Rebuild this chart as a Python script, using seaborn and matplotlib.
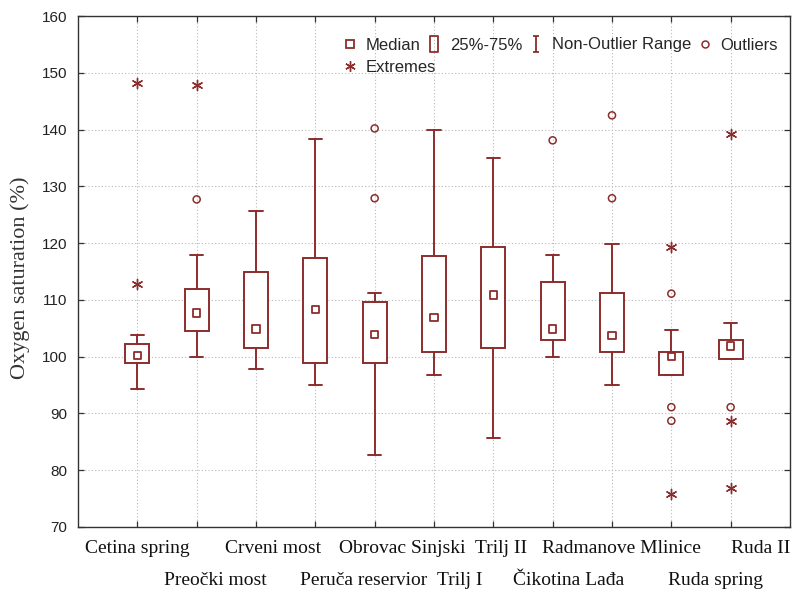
import numpy as np
import pandas as pd
import matplotlib
matplotlib.use("Agg")
import matplotlib.pyplot as plt
import seaborn as sns
from matplotlib.lines import Line2D
from matplotlib.path import Path

# ---------------- data ----------------
categories = ["Cetina spring", "Preočki most", "Crveni most", "Peruča reservior",
              "Obrovac Sinjski", "Trilj I", "Trilj II", "Čikotina Lađa",
              "Radmanove Mlinice", "Ruda spring", "Ruda II"]
whisker_low = [94.3, 99.9, 97.8, 95.0, 82.6, 96.8, 85.7, 99.9, 95.0, 96.8, 99.6]
q1 = [98.9, 104.5, 101.5, 98.9, 98.9, 100.8, 101.5, 102.9, 100.8, 96.8, 99.6]
median = [100.2, 107.7, 104.9, 108.3, 103.9, 106.9, 110.9, 104.9, 103.7, 100.0, 101.9]
q3 = [102.2, 112.0, 115.0, 117.3, 109.6, 117.8, 119.3, 113.1, 111.2, 100.8, 102.9]
whisker_high = [103.8, 117.9, 125.6, 138.4, 111.2, 140.0, 135.0, 117.9, 119.8, 104.7, 105.9]
outliers = [[], [127.7], [], [], [140.2, 127.9], [], [], [138.1],
            [142.5, 127.9], [111.1, 91.1, 88.7], [91.1]]
extremes = [[148.2, 112.8], [147.8], [], [], [], [], [], [], [],
            [119.3, 75.9], [139.2, 88.7, 76.8]]
y_ticks = [70, 80, 90, 100, 110, 120, 130, 140, 150, 160]
legend_labels = ["Median", "25%-75%", "Non-Outlier Range", "Outliers", "Extremes"]

# label horizontal offsets (pixels) as placed in the original figure
label_dx = [0, 19, 17, 48, 28, 26, 8, 16, 9, 44, 30]

RED = "#8c2d2d"
SPINE = "#333333"

sns.set_style("white")

fig = plt.figure(figsize=(7.94, 5.96), dpi=100)
ax = fig.add_axes([78 / 794, 1 - 527 / 596, 712 / 794, 511 / 596])

pos = list(range(len(categories)))

# boxes + whiskers
stats = [dict(med=m, q1=a, q3=b, whislo=lo, whishi=hi, fliers=[])
         for m, a, b, lo, hi in zip(median, q1, q3, whisker_low, whisker_high)]
ax.bxp(stats, positions=pos, widths=0.41, capwidths=0.22, patch_artist=True,
       showfliers=False, manage_ticks=False, zorder=3,
       boxprops=dict(facecolor="white", edgecolor=RED, linewidth=1.4),
       whiskerprops=dict(color=RED, linewidth=1.4),
       capprops=dict(color=RED, linewidth=1.4),
       medianprops=dict(linewidth=0))

# medians
med_df = pd.DataFrame({"pos": pos, "value": median})
sns.scatterplot(data=med_df, x="pos", y="value", ax=ax, marker="s", s=30,
                color=RED, facecolor="none", edgecolor=RED, linewidth=1.3,
                zorder=5, legend=False)

# outliers
out_df = pd.DataFrame([(i, v) for i, vals in enumerate(outliers) for v in vals],
                      columns=["pos", "value"])
sns.scatterplot(data=out_df, x="pos", y="value", ax=ax, marker="o", s=26,
                color=RED, facecolor="none", edgecolor=RED, linewidth=1.1,
                zorder=5, legend=False)

# extremes
ext_df = pd.DataFrame([(i, v) for i, vals in enumerate(extremes) for v in vals],
                      columns=["pos", "value"])
sns.scatterplot(data=ext_df, x="pos", y="value", ax=ax, marker=(6, 2, 0), s=55,
                color=RED, linewidth=1.0, zorder=5, legend=False)

# axes styling
ax.set_xlim(-1, 11)
ax.set_ylim(70, 160)
ax.set_xticks(pos)
ax.set_yticks(y_ticks)
ax.set_xlabel("")
ax.set_ylabel("Oxygen saturation (%)", fontfamily="Liberation Serif",
              fontsize=16, color="#333333")
ax.yaxis.set_label_coords(-0.068, 0.487)
ax.set_axisbelow(True)
ax.grid(True, linestyle=(0, (1, 2)), color="#b8b8b8", linewidth=0.8)
for sp in ax.spines.values():
    sp.set_visible(True)
    sp.set_color(SPINE)
    sp.set_linewidth(1.0)
ax.tick_params(direction="in", length=4, width=0.9, color=SPINE,
               top=True, right=True, bottom=True, left=True,
               labelbottom=False, pad=7.5)
ax.tick_params(axis="y", labelsize=11, labelcolor="#222222")
for t in ax.get_yticklabels():
    t.set_fontfamily("Liberation Sans")

# category labels in two staggered rows
for i, (lab, dx) in enumerate(zip(categories, label_dx)):
    dy = -26 if i % 2 == 0 else -58
    ax.annotate(lab, xy=(i, 0), xycoords=ax.get_xaxis_transform(),
                xytext=(dx, dy), textcoords="offset pixels",
                ha="center", va="baseline", fontsize=14,
                fontfamily="Liberation Serif", color="#111111",
                annotation_clip=False)

# legend handles
rect_path = Path([(-0.43, -1), (0.43, -1), (0.43, 1), (-0.43, 1), (-0.43, -1)],
                 [Path.MOVETO, Path.LINETO, Path.LINETO, Path.LINETO, Path.CLOSEPOLY])
i_path = Path([(-0.43, 1), (0.43, 1), (0, 1), (0, -1), (-0.43, -1), (0.43, -1)],
              [Path.MOVETO, Path.LINETO, Path.MOVETO, Path.LINETO, Path.MOVETO, Path.LINETO])
h_med = Line2D([], [], linestyle="None", marker="s", markersize=6,
               markerfacecolor="none", markeredgecolor=RED, markeredgewidth=1.3)
h_box = Line2D([], [], linestyle="None", marker=rect_path, markersize=12,
               markerfacecolor="none", markeredgecolor=RED, markeredgewidth=1.3)
h_rng = Line2D([], [], linestyle="None", marker=i_path, markersize=11,
               markerfacecolor="none", markeredgecolor=RED, markeredgewidth=1.3)
h_out = Line2D([], [], linestyle="None", marker="o", markersize=5,
               markerfacecolor="none", markeredgecolor=RED, markeredgewidth=1.1)
h_ext = Line2D([], [], linestyle="None", marker=(6, 2, 0), markersize=7.5,
               color=RED, markeredgewidth=1.0)

leg_kw = dict(frameon=False, borderpad=0, borderaxespad=0, handlelength=1.0,
              handletextpad=0.46, columnspacing=0.3,
              prop={"family": "Liberation Sans", "size": 12},
              loc="center left", bbox_transform=fig.transFigure, numpoints=1)
leg1 = ax.legend([h_med, h_box, h_rng, h_out], legend_labels[:4], ncol=4,
                 bbox_to_anchor=(341.7 / 794, 1 - 45 / 596), **leg_kw)
ax.add_artist(leg1)
leg2 = ax.legend([h_ext], legend_labels[4:], ncol=1,
                 bbox_to_anchor=(341.7 / 794, 1 - 67 / 596), **leg_kw)

fig.savefig("out.png", dpi=100)
